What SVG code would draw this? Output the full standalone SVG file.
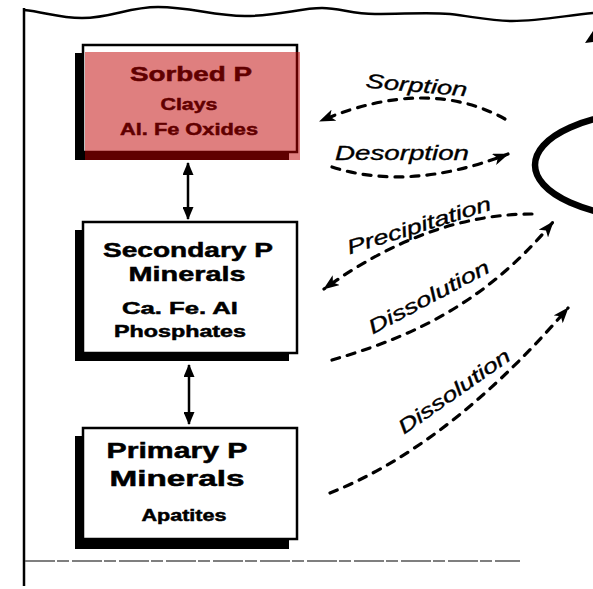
<svg xmlns="http://www.w3.org/2000/svg" width="593" height="589" viewBox="0 0 593 589">
<style>
.bt{font-family:"Liberation Sans",Arial,Helvetica,sans-serif;font-weight:bold;fill:#000;stroke:#000;stroke-width:0.5;text-anchor:middle}
.lab{font-family:"Liberation Sans",Arial,Helvetica,sans-serif;font-style:italic;font-size:20px;fill:#000;stroke:#000;stroke-width:0.35;text-anchor:middle}
.shadow{fill:#000}
.box{fill:#fff;stroke:#000;stroke-width:2.5}
.dash{fill:none;stroke:#000;stroke-width:3.2;stroke-dasharray:8 8;stroke-linecap:round}
.solid{fill:none;stroke:#000;stroke-width:2.5}
</style>
<defs>
<marker id="ah" viewBox="0 0 16 12" refX="15" refY="6" markerWidth="16" markerHeight="12" markerUnits="userSpaceOnUse" orient="auto">
<path d="M0,0 L16,6 L0,12 L4,6 z" fill="#000"/>
</marker>
<marker id="vh" viewBox="0 0 13 11" refX="12" refY="5.5" markerWidth="13" markerHeight="11" markerUnits="userSpaceOnUse" orient="auto-start-reverse">
<path d="M0,0 L13,5.5 L0,11 z" fill="#000"/>
</marker>
</defs>
<rect width="593" height="589" fill="#fff"/>
<g id="frame">
<path class="solid" stroke-width="3" d="M24,10 C45,12 58,18 82,18 C112,18 128,7 158,7 C192,7 212,16 245,16 C278,16 300,8 322,8 C340,8 352,14 375,14 C405,14 428,12 450,14 C475,17 492,21 512,21 C542,21 568,15 593,13"/>
<path class="solid" stroke-width="2.5" d="M24,8 L24,586"/>
<path d="M25,561 L520,561" fill="none" stroke="#555" stroke-width="1.5" stroke-dasharray="30 2 12 3"/>
<polygon points="585,43 593,31 593,42" fill="#000"/>
</g>
<g id="reservoir">
<ellipse cx="655" cy="165" rx="120" ry="53" fill="none" stroke="#000" stroke-width="6.5"/>
</g>
<g id="sorbed">
<rect class="shadow" x="75" y="53" width="214" height="107"/>
<rect class="box" x="83" y="45" width="214" height="107"/>
<text class="bt" x="191" y="81" font-size="20" textLength="122" lengthAdjust="spacingAndGlyphs">Sorbed P</text>
<text class="bt" x="189" y="110" font-size="17" textLength="57" lengthAdjust="spacingAndGlyphs">Clays</text>
<text class="bt" x="189" y="135" font-size="17" textLength="138" lengthAdjust="spacingAndGlyphs">Al. Fe Oxides</text>
<rect x="85" y="52" width="215" height="108" fill="#c00000" fill-opacity="0.5"/>
</g>
<g id="secondary">
<rect class="shadow" x="75" y="230" width="214" height="131"/>
<rect class="box" x="83" y="222" width="214" height="131"/>
<text class="bt" x="188" y="257" font-size="21" textLength="170" lengthAdjust="spacingAndGlyphs">Secondary P</text>
<text class="bt" x="187" y="281" font-size="21" textLength="117" lengthAdjust="spacingAndGlyphs">Minerals</text>
<text class="bt" x="180" y="314" font-size="17" textLength="116" lengthAdjust="spacingAndGlyphs">Ca. Fe. Al</text>
<text class="bt" x="180" y="337" font-size="17" textLength="132" lengthAdjust="spacingAndGlyphs">Phosphates</text>
</g>
<g id="primary">
<rect class="shadow" x="75" y="436" width="214" height="113"/>
<rect class="box" x="83" y="428" width="214" height="111"/>
<text class="bt" x="177" y="458" font-size="22" textLength="141" lengthAdjust="spacingAndGlyphs">Primary P</text>
<text class="bt" x="177" y="486" font-size="22" textLength="135" lengthAdjust="spacingAndGlyphs">Minerals</text>
<text class="bt" x="184" y="521" font-size="17" textLength="85" lengthAdjust="spacingAndGlyphs">Apatites</text>
</g>
<g id="connectors">
<line class="solid" x1="188" y1="163" x2="188" y2="219" marker-start="url(#vh)" marker-end="url(#vh)"/>
<line class="solid" x1="189" y1="365" x2="189" y2="424" marker-start="url(#vh)" marker-end="url(#vh)"/>
<path class="dash" d="M505,119 Q427,76 320,121" marker-end="url(#ah)"/>
<path class="dash" d="M332,167 Q410,192 508,154" marker-end="url(#ah)"/>
<path class="dash" d="M532,214 Q428,214 324,289" marker-end="url(#ah)"/>
<path class="dash" d="M332,360 C400,340 480,310 553,222" marker-end="url(#ah)"/>
<path class="dash" d="M330,493 C400,465 480,410 568,308" marker-end="url(#ah)"/>
</g>
<g id="labels">
<text class="lab" transform="translate(416,92) rotate(5)" textLength="102" lengthAdjust="spacingAndGlyphs">Sorption</text>
<text class="lab" transform="translate(402,160)" textLength="134" lengthAdjust="spacingAndGlyphs">Desorption</text>
<text class="lab" transform="translate(421,232) rotate(-17.5)" textLength="150" lengthAdjust="spacingAndGlyphs">Precipitation</text>
<text class="lab" transform="translate(432,303) rotate(-28)" textLength="134" lengthAdjust="spacingAndGlyphs">Dissolution</text>
<text class="lab" transform="translate(458,397) rotate(-35)" textLength="132" lengthAdjust="spacingAndGlyphs">Dissolution</text>
</g>
</svg>
